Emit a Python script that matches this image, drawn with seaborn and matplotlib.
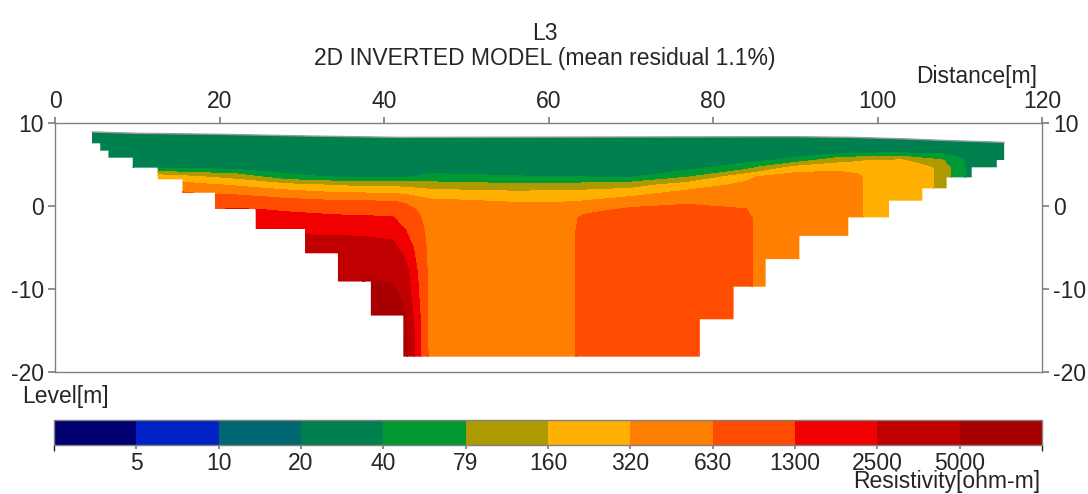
# 2D resistivity section (L3) - recreated with seaborn / matplotlib

import numpy as np
import seaborn as sns
import matplotlib
matplotlib.use("Agg")
import matplotlib.pyplot as plt
from matplotlib.colors import ListedColormap, BoundaryNorm
from matplotlib.cm import ScalarMappable
from matplotlib.patches import Polygon


# ---------------------------------------------------------------------------------- #
# colour scale (ohm-m)

res_ticks = [5, 10, 20, 40, 79, 160, 320, 630, 1300, 2500, 5000]
res_colors = ["#000072", "#0022c4", "#006672", "#00804f", "#009933", "#ad9900",
              "#ffb000", "#ff8000", "#ff4c00", "#f00000", "#c00000", "#a80000"]

# ---------------------------------------------------------------------------------- #
# model grid: distance [m], level [m], log10 resistivity

grid_x = [3, 10, 14, 18, 22, 28, 34, 38, 41, 42.6, 45.6, 50, 56, 62.8, 64.2,
          70, 77, 84, 85.5, 90, 95, 97.6, 99, 103, 106, 108, 110, 112, 117]
grid_level = [-19, -14, -11, -8, -5, -3, -1.5, -0.5, 0.5, 1.5, 2.5, 3.5, 4.5, 5.5, 6.5, 9.5]

east_deep = [2.68, 2.64, 2.62, 2.60, 2.38, 2.35, 2.30, 2.05, 1.70, 1.40, 1.40]

lr_m19 = [2.95, 2.95, 3.20, 3.50, 3.50, 3.55, 3.80, 3.85, 3.85, 3.80, 2.70, 2.62, 2.62, 2.70, 2.95, 2.96, 2.96, 2.92] + east_deep
lr_m14 = [2.95, 2.95, 3.20, 3.50, 3.50, 3.55, 3.75, 3.85, 3.85, 3.75, 2.70, 2.62, 2.62, 2.70, 2.95, 2.96, 2.96, 2.92] + east_deep
lr_m11 = [2.95, 2.95, 3.20, 3.50, 3.50, 3.55, 3.70, 3.85, 3.82, 3.60, 2.70, 2.62, 2.62, 2.70, 2.95, 2.96, 2.96, 2.92] + east_deep
lr_m8 = [2.95, 2.95, 3.20, 3.50, 3.50, 3.55, 3.58, 3.64, 3.60, 3.50, 2.70, 2.62, 2.62, 2.70, 2.95, 2.96, 2.96, 2.92] + east_deep
lr_m5 = [2.95, 2.95, 3.20, 3.50, 3.50, 3.55, 3.47, 3.48, 3.46, 3.30, 2.70, 2.62, 2.62, 2.70, 2.95, 2.96, 2.96, 2.92] + east_deep
lr_m3 = [2.95, 2.95, 3.20, 3.40, 3.47, 3.35, 3.37, 3.35, 3.32, 3.12, 2.70, 2.62, 2.62, 2.70, 2.95, 2.96, 2.96, 2.92] + east_deep
lr_m1_5 = [2.95, 2.95, 3.20, 3.22, 3.27, 3.20, 3.18, 3.16, 3.14, 2.98, 2.70, 2.62, 2.62, 2.70, 2.87, 2.96, 2.96, 2.92] + east_deep
lr_m0_5 = [2.95, 2.95, 3.19, 3.10, 3.15, 3.09, 3.02, 3.01, 2.98, 2.90, 2.67, 2.62, 2.62, 2.65, 2.71, 2.86, 2.90, 2.81] + east_deep
lr_p0_5 = [2.95, 2.95, 3.04, 2.94, 2.97, 2.90, 2.84, 2.83, 2.81, 2.77, 2.57, 2.54, 2.49, 2.50, 2.52, 2.65, 2.75, 2.73] + east_deep
lr_p1_5 = [2.95, 2.92, 2.88, 2.78, 2.76, 2.65, 2.54, 2.52, 2.50, 2.47, 2.36, 2.33, 2.29, 2.32, 2.33, 2.41, 2.60, 2.65] + east_deep
lr_p2_5 = [2.84, 2.74, 2.65, 2.56, 2.47, 2.30, 2.18, 2.13, 2.13, 2.11, 2.04, 2.00, 1.96, 1.98, 2.00, 2.07, 2.37, 2.57,
           2.66, 2.64, 2.62, 2.60, 2.38, 2.35, 2.30, 2.05, 1.70, 1.40, 1.40]
lr_p3_5 = [2.61, 2.43, 2.35, 2.20, 2.09, 1.69, 1.58, 1.57, 1.57, 1.57, 1.67, 1.65, 1.62, 1.59, 1.59, 1.58, 1.87, 2.42,
           2.51, 2.62, 2.62, 2.57, 2.38, 2.35, 2.30, 2.05, 1.70, 1.40, 1.40]
lr_p4_5 = [2.30, 1.60, 1.59, 1.57, 1.55, 1.47, 1.43, 1.42, 1.42, 1.42, 1.49, 1.48, 1.46, 1.44, 1.44, 1.43, 1.53, 1.82,
           1.97, 2.38, 2.45, 2.39, 2.35, 2.35, 2.30, 2.05, 1.70, 1.40, 1.40]
lr_p5_5 = [1.57, 1.46, 1.44, 1.42, 1.40, 1.40, 1.40, 1.40, 1.40, 1.40, 1.40, 1.40, 1.40, 1.40, 1.40, 1.40, 1.40, 1.50,
           1.53, 1.71, 2.07, 2.16, 2.20, 2.22, 2.00, 1.90, 1.66, 1.40, 1.40]
lr_p6_5 = [1.42, 1.40, 1.40, 1.40, 1.40, 1.40, 1.40, 1.40, 1.40, 1.40, 1.40, 1.40, 1.40, 1.40, 1.40, 1.40, 1.40, 1.40,
           1.40, 1.40, 1.45, 1.48, 1.50, 1.52, 1.50, 1.50, 1.48, 1.40, 1.40]
lr_p9_5 = [1.40] * 29

# ---------------------------------------------------------------------------------- #
# section outline: surface and staircase bottom of the model blocks

topo_x = [4.5, 10, 20, 31, 42, 60, 80, 90, 97, 103, 109, 115.4]
topo_z = [8.92, 8.76, 8.64, 8.43, 8.27, 8.3, 8.33, 8.35, 8.27, 8.1, 7.87, 7.67]

step_edges = [4.5, 5.5, 6.5, 9.45, 12.5, 15.5, 19.45, 24.4, 30.4, 34.4, 38.4, 42.35,
              78.4, 82.5, 86.4, 90.5, 96.45, 101.4, 105.45, 108.4, 111.45, 114.5, 115.4]
step_bottom = [7.55, 6.67, 5.82, 4.62, 3.21, 1.6, -0.36, -2.77, -5.7, -9.1, -13.2, -18.15,
               -13.65, -9.72, -6.4, -3.6, -1.37, 0.64, 2.13, 3.45, 4.66, 5.54]


# ---------------------------------------------------------------------------------- #
# style

sns.set_theme(style="white")
plt.rcParams["font.family"] = ["Liberation Sans", "DejaVu Sans"]
plt.rcParams["axes.unicode_minus"] = False
grey = "#808080"
fs = 16.5

log_rho = np.array([lr_m19, lr_m14, lr_m11, lr_m8, lr_m5, lr_m3, lr_m1_5, lr_m0_5,
                    lr_p0_5, lr_p1_5, lr_p2_5, lr_p3_5, lr_p4_5, lr_p5_5, lr_p6_5, lr_p9_5])

cmap = ListedColormap(sns.color_palette(res_colors))
bounds = [0.0] + list(np.log10(res_ticks)) + [4.5]
norm = BoundaryNorm(bounds, cmap.N)

fig = plt.figure(figsize=(10.88, 4.94), dpi=100)
W, H = 1088, 494
ax = fig.add_axes([55 / W, (H - 372) / H, 987 / W, 249 / H])

cs = ax.contourf(grid_x, grid_level, log_rho, levels=bounds, cmap=cmap, norm=norm)
cs.set_edgecolor("face")
cs.set_linewidth(0.3)

# clip to the model area
verts = list(zip(topo_x, topo_z))
for i in reversed(range(len(step_bottom))):
    verts.append((step_edges[i + 1], step_bottom[i]))
    verts.append((step_edges[i], step_bottom[i]))
outline = Polygon(verts, closed=True, transform=ax.transData, facecolor="none", edgecolor="none")
ax.add_patch(outline)
cs.set_clip_path(outline)

ax.plot(topo_x, topo_z, color="#9a9a9a", lw=1.0)

ax.set_xlim(0, 120)
ax.set_ylim(-20, 10)
ax.set_xticks([0, 20, 40, 60, 80, 100, 120])
ax.set_yticks([-20, -10, 0, 10])
ax.xaxis.tick_top()
ax.tick_params(axis="x", top=True, bottom=False, labeltop=True, labelbottom=False,
               direction="out", length=4, color=grey, labelsize=fs, pad=3)
ax.tick_params(axis="y", left=True, right=True, labelleft=True, labelright=True,
               direction="out", length=5, color=grey, labelsize=fs, pad=3)
for s in ax.spines.values():
    s.set_color(grey)
    s.set_linewidth(1.0)

# titles and labels
fig.text(545 / W, 1 - 33 / H, "L3", ha="center", va="center", fontsize=fs)
fig.text(545 / W, 1 - 58 / H, "2D INVERTED MODEL (mean residual 1.1%)", ha="center", va="center", fontsize=fs)
fig.text(1037 / W, 1 - 77 / H, "Distance[m]", ha="right", va="center", fontsize=fs)
fig.text(22 / W, 1 - 397 / H, "Level[m]", ha="left", va="center", fontsize=fs)
fig.text(1040 / W, 1 - 488 / H, "Resistivity[ohm-m]", ha="right", va="baseline", fontsize=fs)

# colour bar
cax = fig.add_axes([54 / W, (H - 445) / H, 988 / W, 25 / H])
cb = fig.colorbar(ScalarMappable(norm=norm, cmap=cmap), cax=cax, orientation="horizontal",
                  ticks=np.log10(res_ticks))
cb.set_ticklabels([str(t) for t in res_ticks])
cb.outline.set_edgecolor(grey)
cb.outline.set_linewidth(1.0)
cax.tick_params(axis="x", length=3, color=grey, labelsize=fs, pad=2)

plt.savefig("out.png", dpi=100)
